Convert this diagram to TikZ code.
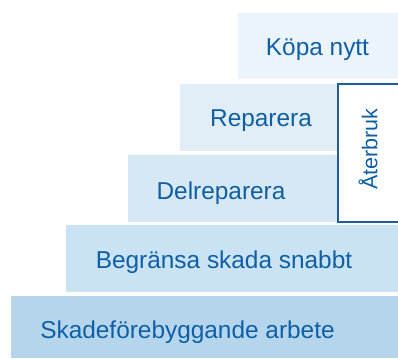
\documentclass[tikz,border=0pt]{standalone}
\usepackage{fontspec}
\setmainfont{Liberation Sans}
\definecolor{txtblue}{HTML}{0F5FA6}
\definecolor{brdblue}{HTML}{1F5E9C}
\definecolor{c1}{HTML}{ECF4FB}
\definecolor{c2}{HTML}{E1EEF8}
\definecolor{c3}{HTML}{D7E8F5}
\definecolor{c4}{HTML}{C9E2F4}
\definecolor{c5}{HTML}{B5D5EC}
\begin{document}
\begin{tikzpicture}[x=1pt,y=-1pt,
  lbl/.style={anchor=base,text=txtblue,font=\fontsize{24.4}{26}\selectfont,inner sep=0pt}]
\useasboundingbox (0,0) rectangle (398,358);
\clip (0,0) rectangle (398,358);
\fill[c1] (238,13) rectangle (398,79);
\fill[c2] (180,84) rectangle (337,151);
\fill[c3] (128,155) rectangle (337,222);
\fill[c4] (66,225) rectangle (398,292);
\fill[c5] (11,296) rectangle (398,358);
\draw[brdblue,line width=2pt,fill=white] (337.5,84.5) rectangle (402,221.5);
\node[lbl] (kop) at (317.5,56) {Köpa nytt};
\node[lbl] (rep) at (261,127) {Reparera};
\node[lbl] (del) at (221,199) {Delreparera};
\node[lbl] (beg) at (224,268) {Begränsa skada snabbt};
\node[lbl] (ska) at (187.5,338) {Skadeförebyggande arbete};
\node[text=txtblue,font=\fontsize{21.5}{23}\selectfont,rotate=90,inner sep=0pt] (ater) at (368,149) {Återbruk};
\end{tikzpicture}
\end{document}
